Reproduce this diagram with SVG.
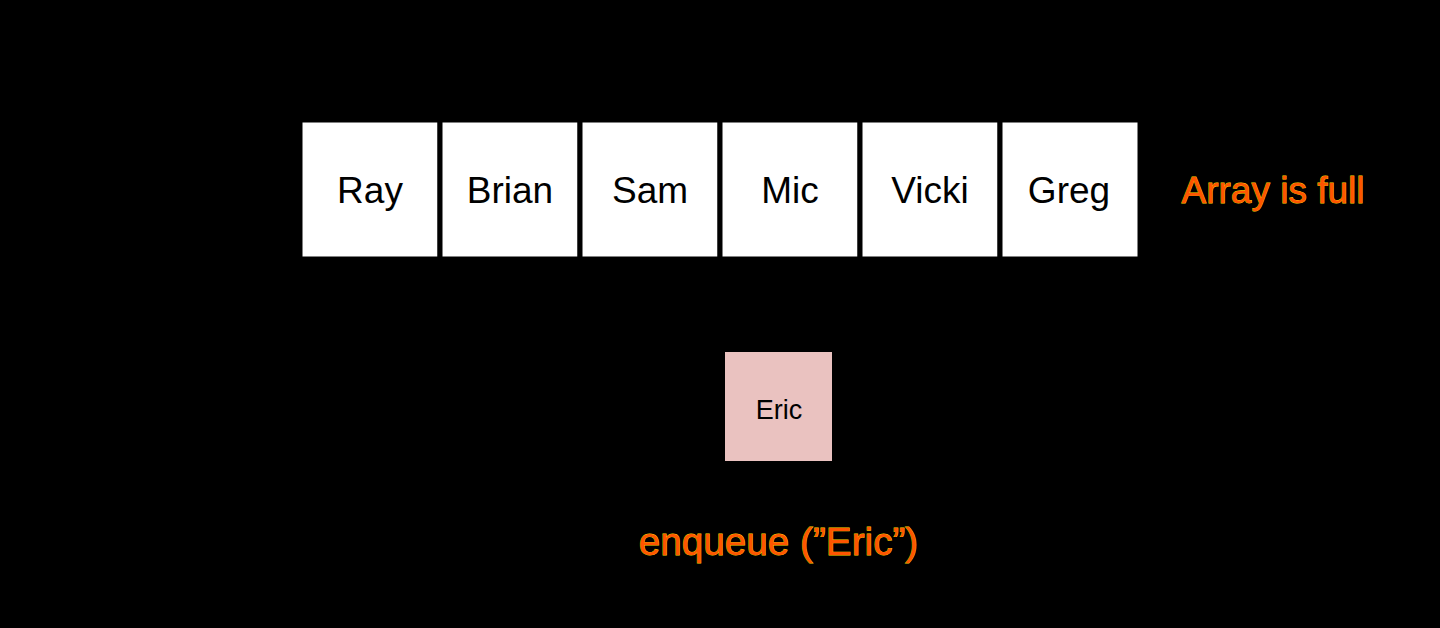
<svg xmlns="http://www.w3.org/2000/svg" width="1440" height="628" viewBox="0 0 1440 628">
<style>
.cell{fill:#ffffff;stroke:#000000;stroke-width:5}
.name{font-family:"Liberation Sans",Arial,sans-serif;font-size:37px;fill:#000000;text-anchor:middle}
.note{font-family:"Liberation Sans",Arial,sans-serif;font-size:37px;fill:#FF5500;stroke:#FFD400;stroke-width:0.8;paint-order:stroke;text-anchor:middle}
</style>
<rect x="0" y="0" width="1440" height="628" fill="#000000"/>
<g id="connectors"></g>
<g id="node-ray"><rect class="cell" x="300" y="120" width="140" height="139"/><text class="name" x="370" y="203">Ray</text></g>
<g id="node-brian"><rect class="cell" x="440" y="120" width="140" height="139"/><text class="name" x="510" y="203">Brian</text></g>
<g id="node-sam"><rect class="cell" x="580" y="120" width="140" height="139"/><text class="name" x="650" y="203">Sam</text></g>
<g id="node-mic"><rect class="cell" x="720" y="120" width="140" height="139"/><text class="name" x="790" y="203">Mic</text></g>
<g id="node-vicki"><rect class="cell" x="860" y="120" width="140" height="139"/><text class="name" x="930" y="203">Vicki</text></g>
<g id="node-greg"><rect class="cell" x="1000" y="120" width="140" height="139"/><text class="name" x="1069" y="203">Greg</text></g>
<g id="label-full"><text class="note" x="1273" y="203">Array is full</text></g>
<g id="node-eric"><rect x="724" y="351" width="109" height="111" fill="#EAC2C0" stroke="#000000" stroke-width="2"/><text x="779" y="419" font-family="Liberation Sans, Arial, sans-serif" font-size="27" text-anchor="middle" fill="#000000">Eric</text></g>
<g id="label-enqueue"><text class="note" x="778.5" y="555" style="font-size:38.7px">enqueue (”Eric”)</text></g>
</svg>
